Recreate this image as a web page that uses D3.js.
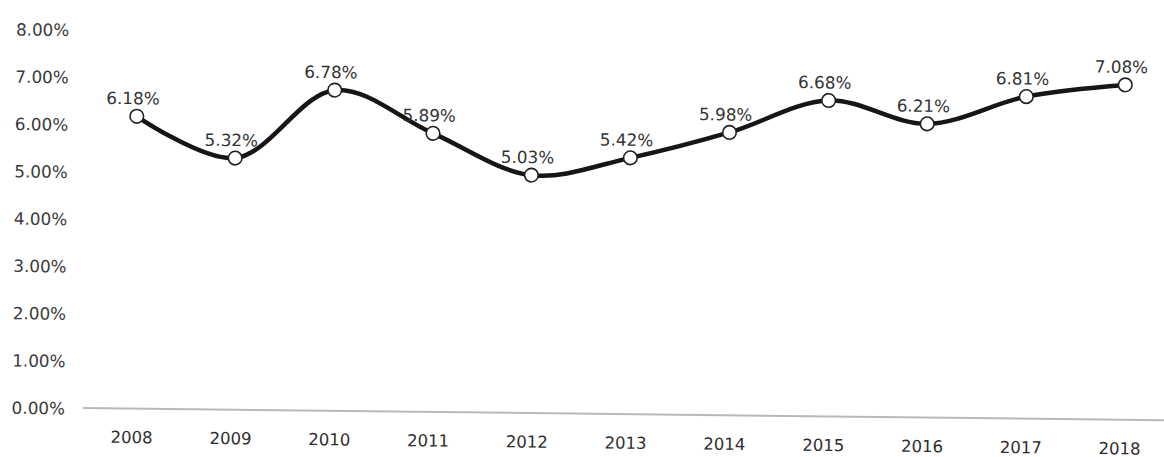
<!DOCTYPE html>
<html>
<head>
<meta charset="utf-8">
<script src="https://cdn.jsdelivr.net/npm/d3@7/dist/d3.min.js"></script>
<style>
  html, body { margin: 0; padding: 0; background: #ffffff; }
  svg { display: block; }
  text { font-family: "DejaVu Sans", Verdana, sans-serif; }
</style>
</head>
<body>
<svg id="chart" width="1164" height="457"></svg>
<script>
// ---- data ----
const years = ["2008","2009","2010","2011","2012","2013","2014","2015","2016","2017","2018"];
const rates = [6.18, 5.32, 6.78, 5.89, 5.03, 5.42, 5.98, 6.68, 6.21, 6.81, 7.08];
const yTicks = [0, 1, 2, 3, 4, 5, 6, 7, 8];

// ---- layout ----
const W = 1164, H = 457;
const baseY = 408, topY = 29.6;
const axisLeft = 83, axisRight = 1175;
const tilt = 0.65; // scan tilt in degrees

const svg = d3.select("#chart");
const g = svg.append("g")
  .attr("transform", `rotate(${tilt},${axisLeft},${baseY})`);

const x = d3.scalePoint().domain(years).range([133.5, 1121.5]);
const y = d3.scaleLinear().domain([0, 8]).range([baseY, topY]);

// y tick labels
const yAxis = d3.axisLeft(y).tickValues(yTicks)
  .tickFormat(d => d.toFixed(2) + "%").tickSize(0).tickPadding(0);
const ya = g.append("g").attr("transform", "translate(65,0)").call(yAxis);
ya.select(".domain").remove();
ya.selectAll("text")
  .attr("fill", "#3a3a3a")
  .style("font-size", "16.8px")
  .style("font-family", '"DejaVu Sans", Verdana, sans-serif')
  .attr("dy", "0.36em");

// baseline
g.append("line")
  .attr("x1", axisLeft).attr("x2", axisRight)
  .attr("y1", baseY).attr("y2", baseY)
  .attr("stroke", "#b8b8b8").attr("stroke-width", 2);

// x labels
const xAxis = d3.axisBottom(x).tickSize(0).tickPadding(0);
const xa = g.append("g").attr("transform", `translate(-2,${baseY})`).call(xAxis);
xa.select(".domain").remove();
xa.selectAll("text")
  .attr("fill", "#2e2e2e")
  .attr("y", 34.5).attr("dy", 0)
  .style("font-size", "16.5px")
  .style("font-family", '"DejaVu Sans", Verdana, sans-serif');

// line
const pts = years.map((yr, i) => ({ yr, v: rates[i] }));
const line = d3.line()
  .x(d => x(d.yr)).y(d => y(d.v))
  .curve(d3.curveCatmullRom.alpha(0.5));
g.append("path")
  .datum(pts)
  .attr("d", line)
  .attr("fill", "none")
  .attr("stroke", "#161616")
  .attr("stroke-width", 4.5)
  .attr("stroke-linejoin", "round");

// markers
g.selectAll("circle.pt").data(pts).join("circle")
  .attr("class", "pt")
  .attr("cx", d => x(d.yr)).attr("cy", d => y(d.v))
  .attr("r", 6.8)
  .attr("fill", "#ffffff")
  .attr("stroke", "#222")
  .attr("stroke-width", 1.6);

// value labels
g.selectAll("text.val").data(pts).join("text")
  .attr("class", "val")
  .attr("x", d => x(d.yr) - 4)
  .attr("y", d => y(d.v) - 12)
  .attr("text-anchor", "middle")
  .attr("fill", "#333")
  .style("font-size", "16.8px")
  .text(d => d.v.toFixed(2) + "%");
</script>
</body>
</html>
